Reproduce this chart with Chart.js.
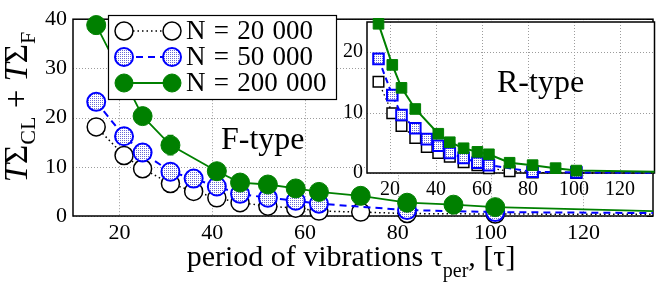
<!DOCTYPE html>
<html><head><meta charset="utf-8">
<script src="https://cdn.jsdelivr.net/npm/chart.js@4.4.0/dist/chart.umd.min.js"></script>
<style>
html,body{margin:0;padding:0;background:#fff;}
#wrap{position:relative;width:664px;height:287px;overflow:hidden;}
#main{position:absolute;left:0;top:0;}
#inset{position:absolute;left:330px;top:0;}
</style></head><body>
<div id="wrap"><canvas id="main" width="664" height="287"></canvas><canvas id="inset" width="334" height="200"></canvas></div>
<script>
// ---- tick labels ----
const xTicks = [20, 40, 60, 80, 100, 120];
const yTicksMain = [0, 10, 20, 30, 40];
const yTicksInset = [0, 10, 20];
const seriesLabels = ['N = 20 000', 'N = 50 000', 'N = 200 000'];

// ---- F-type (main plot) ----
const fBlackX = [15, 21, 25, 31, 36, 41, 46, 52, 58, 63, 72, 82, 101, 150];
const fBlackY = [18.1, 12.3, 9.6, 6.6, 5.0, 3.7, 2.7, 2.0, 1.6, 1.0, 0.8, 0.5, 0.4, 0.3];
const fBlueX  = [15, 21, 25, 31, 36, 41, 46, 52, 58, 63, 82, 101, 150];
const fBlueY  = [23.2, 16.2, 12.9, 9.0, 7.6, 6.0, 4.5, 3.7, 3.1, 2.5, 1.2, 0.8, 0.5];
const fGreenX = [15, 25, 31, 41, 46, 52, 58, 63, 72, 82, 92, 101, 150];
const fGreenY = [38.8, 20.3, 14.4, 9.1, 6.8, 6.4, 5.6, 4.9, 4.1, 2.7, 2.3, 1.8, 0.65];
const fGreenErrX = [15, 31];
const fGreenErr  = [1.8, 2.0];

// ---- R-type (inset) ----
const rBlackX = [15, 21, 25, 31, 36, 41, 46, 52, 58, 63, 72, 82, 101, 150];
const rBlackY = [15.1, 9.9, 7.8, 5.8, 4.3, 3.3, 2.7, 1.8, 1.3, 0.8, 0.3, 0.1, 0.0, 0.0];
const rBlueX  = [15, 21, 25, 31, 36, 41, 46, 52, 58, 63, 82, 101, 150];
const rBlueY  = [18.9, 12.9, 9.6, 7.4, 5.6, 4.5, 3.3, 2.5, 1.7, 1.3, 0.2, 0.1, 0.0];
const rGreenX = [15, 21, 25, 31, 41, 46, 52, 58, 63, 72, 82, 92, 101, 150];
const rGreenY = [24.7, 17.9, 14.1, 10.6, 6.5, 5.1, 4.1, 3.5, 3.1, 1.7, 1.3, 0.8, 0.4, 0.1];

const SERIF = 'Liberation Serif';
const GREEN = '#008000';
const BLUE = '#0000ff';
Chart.defaults.font.family = SERIF;
Chart.defaults.color = '#000';

function pts(xs, ys){ return xs.map((x, i) => ({x: x, y: ys[i]})); }

function makePattern(){
  const c = document.createElement('canvas'); c.width = 2; c.height = 2;
  const g = c.getContext('2d');
  g.fillStyle = '#ffffff'; g.fillRect(0, 0, 2, 2);
  g.fillStyle = 'rgb(105,105,215)'; g.fillRect(0, 0, 1, 1);
  return g.createPattern(c, 'repeat');
}
const dotFill = makePattern();

const gridFrame = {
  id: 'gridFrame',
  beforeDraw(chart, args, o){
    if (o.fillArea){
      const a = chart.chartArea, ctx = chart.ctx;
      ctx.save(); ctx.fillStyle = '#fff';
      ctx.fillRect(a.left, a.top, a.right - a.left, a.bottom - a.top);
      ctx.restore();
    }
  },
  beforeDatasetsDraw(chart, args, o){
    const ctx = chart.ctx, a = chart.chartArea, xs = chart.scales.x, ys = chart.scales.y;
    ctx.save();
    ctx.strokeStyle = '#9c9c9c'; ctx.lineWidth = 1; ctx.setLineDash([1, 2]);
    o.xt.forEach(v => {
      const px = Math.round(xs.getPixelForValue(v)) + 0.5;
      ctx.beginPath(); ctx.moveTo(px, a.top); ctx.lineTo(px, a.bottom); ctx.stroke();
    });
    o.yt.forEach(v => {
      const py = Math.round(ys.getPixelForValue(v)) + 0.5;
      ctx.beginPath(); ctx.moveTo(a.left, py); ctx.lineTo(a.right, py); ctx.stroke();
    });
    ctx.setLineDash([]);
    ctx.strokeStyle = '#000'; ctx.lineWidth = 1.5;
    ctx.strokeRect(a.left, a.top, a.right - a.left, a.bottom - a.top);
    if (o.rightTicks){
      ctx.lineWidth = 1;
      o.yt.forEach(v => {
        const py = Math.round(ys.getPixelForValue(v)) + 0.5;
        ctx.beginPath(); ctx.moveTo(a.right - 6, py); ctx.lineTo(a.right, py); ctx.stroke();
      });
    }
    if (o.errX){
      ctx.strokeStyle = GREEN; ctx.lineWidth = 1.2;
      o.errX.forEach((xv, i) => {
        const yv = o.errY[i];
        const px = xs.getPixelForValue(xv);
        const y0 = ys.getPixelForValue(yv - o.err[i]);
        const y1 = ys.getPixelForValue(yv + o.err[i]);
        ctx.beginPath(); ctx.moveTo(px, y0); ctx.lineTo(px, y1);
        ctx.moveTo(px - 3, y0); ctx.lineTo(px + 3, y0);
        ctx.moveTo(px - 3, y1); ctx.lineTo(px + 3, y1);
        ctx.stroke();
      });
    }
    ctx.restore();
  }
};

function drawRich(ctx, parts, cx, by){
  let total = 0;
  parts.forEach(p => { ctx.font = p.f; p.w = ctx.measureText(p.t).width; total += p.w; });
  let x = cx - total / 2;
  parts.forEach(p => { ctx.font = p.f; ctx.fillText(p.t, x, by + (p.dy || 0)); x += p.w; });
}

const F = (s, extra) => (extra ? extra + ' ' : '') + s + 'px "Liberation Serif"';

const decorations = {
  id: 'decorations',
  afterDraw(chart){
    const ctx = chart.ctx;
    ctx.save();
    ctx.fillStyle = '#000'; ctx.textBaseline = 'alphabetic'; ctx.textAlign = 'left';
    // F-type label
    ctx.font = F(32);
    ctx.fillText('F-type', 221, 149);
    // x-axis title
    drawRich(ctx, [
      {t: 'period of vibrations τ', f: F(30)},
      {t: 'per', f: F(20), dy: 11},
      {t: ', [τ]', f: F(30)}
    ], 351, 266);
    // y-axis title
    ctx.save();
    ctx.translate(27, 107); ctx.rotate(-Math.PI / 2);
    drawRich(ctx, [
      {t: 'T', f: F(33, 'italic')},
      {t: 'Σ', f: F(33)},
      {t: 'CL', f: F(22), dy: 8},
      {t: ' + ', f: F(33)},
      {t: 'T', f: F(33, 'italic')},
      {t: 'Σ', f: F(33)},
      {t: 'F', f: F(22), dy: 8}
    ], 0, 0);
    ctx.restore();
    // legend
    ctx.fillStyle = '#fff'; ctx.fillRect(108, 15, 228, 84);
    ctx.strokeStyle = '#000'; ctx.lineWidth = 1.2; ctx.strokeRect(108.5, 15.5, 228, 84);
    const styles = [
      {line: '#000', dash: [1.5, 3], lw: 1.5, fill: '#fff', stroke: '#000', bw: 1.5},
      {line: BLUE, dash: [7, 5], lw: 2, fill: dotFill, stroke: BLUE, bw: 2},
      {line: GREEN, dash: [], lw: 1.8, fill: GREEN, stroke: GREEN, bw: 1}
    ];
    styles.forEach((s, i) => {
      const yy = 31 + i * 26;
      ctx.strokeStyle = s.line; ctx.lineWidth = s.lw; ctx.setLineDash(s.dash);
      ctx.beginPath(); ctx.moveTo(124, yy); ctx.lineTo(172, yy); ctx.stroke();
      ctx.setLineDash([]);
      [124, 172].forEach(cx => {
        ctx.beginPath(); ctx.arc(cx, yy, 9, 0, Math.PI * 2);
        ctx.fillStyle = s.fill; ctx.fill();
        ctx.strokeStyle = s.stroke; ctx.lineWidth = s.bw; ctx.stroke();
      });
      ctx.fillStyle = '#000'; ctx.font = F(27);
      try { ctx.wordSpacing = '1.5px'; } catch (e) {}
      ctx.fillText(seriesLabels[i], 186, yy + 8);
      try { ctx.wordSpacing = '0px'; } catch (e) {}
    });
    ctx.restore();
  }
};

const insetText = {
  id: 'insetText',
  afterDraw(chart){
    const ctx = chart.ctx;
    ctx.save();
    ctx.fillStyle = '#000'; ctx.font = F(32); ctx.textBaseline = 'alphabetic';
    ctx.fillText('R-type', 497 - 330, 92);
    ctx.restore();
  }
};

function tickScale(ticks, font, pad, fitProp, fitVal, min, max){
  return {
    type: 'linear', min: min, max: max,
    afterBuildTicks: s => { s.ticks = ticks.map(v => ({value: v})); },
    afterFit: s => { s[fitProp] = fitVal; },
    grid: {display: false, drawTicks: false},
    border: {display: false},
    ticks: {font: {family: SERIF, size: font}, color: '#000', padding: pad, maxRotation: 0, autoSkip: false}
  };
}

const clipOpt = {left: 0, right: 0, top: 12, bottom: 12};

new Chart(document.getElementById('main'), {
  type: 'line',
  data: {datasets: [
    {label: seriesLabels[0], data: pts(fBlackX, fBlackY), borderColor: '#000', borderWidth: 1.5, borderDash: [1.5, 3],
     pointRadius: 9, pointBackgroundColor: '#fff', pointBorderColor: '#000', pointBorderWidth: 1.5, order: 3, clip: clipOpt},
    {label: seriesLabels[1], data: pts(fBlueX, fBlueY), borderColor: BLUE, borderWidth: 2, borderDash: [7, 5],
     pointRadius: 9, pointBackgroundColor: dotFill, pointBorderColor: BLUE, pointBorderWidth: 2, order: 2, clip: clipOpt},
    {label: seriesLabels[2], data: pts(fGreenX, fGreenY), borderColor: GREEN, borderWidth: 1.8,
     pointRadius: 9.5, pointBackgroundColor: GREEN, pointBorderColor: GREEN, pointBorderWidth: 1, order: 1, clip: clipOpt}
  ]},
  options: {
    responsive: false, animation: false, devicePixelRatio: 1,
    layout: {padding: {left: 0, right: 3, top: 11, bottom: 0}},
    plugins: {legend: {display: false}, tooltip: {enabled: false},
      gridFrame: {xt: xTicks, yt: yTicksMain, rightTicks: true, errX: fGreenErrX, errY: [fGreenY[0], fGreenY[2]], err: fGreenErr}},
    scales: {
      x: tickScale(xTicks, 22, 4, 'height', 71, 10, 135),
      y: tickScale(yTicksMain, 22, 6, 'width', 73, 0, 40)
    }
  },
  plugins: [gridFrame, decorations]
});

new Chart(document.getElementById('inset'), {
  type: 'line',
  data: {datasets: [
    {data: pts(rBlackX, rBlackY), borderColor: '#000', borderWidth: 1.3, borderDash: [1.5, 3], pointStyle: 'rect',
     pointRadius: 7.5, pointBackgroundColor: '#fff', pointBorderColor: '#000', pointBorderWidth: 1.5, order: 3, clip: clipOpt},
    {data: pts(rBlueX, rBlueY), borderColor: BLUE, borderWidth: 2, borderDash: [6, 4], pointStyle: 'rect',
     pointRadius: 7.5, pointBackgroundColor: dotFill, pointBorderColor: BLUE, pointBorderWidth: 2, order: 2, clip: clipOpt},
    {data: pts(rGreenX, rGreenY), borderColor: GREEN, borderWidth: 2, pointStyle: 'rect',
     pointRadius: 7.5, pointBackgroundColor: GREEN, pointBorderColor: GREEN, pointBorderWidth: 1, order: 1, clip: clipOpt}
  ]},
  options: {
    responsive: false, animation: false, devicePixelRatio: 1,
    layout: {padding: {left: 0, right: 8, top: 22, bottom: 0}},
    plugins: {legend: {display: false}, tooltip: {enabled: false},
      gridFrame: {xt: xTicks, yt: yTicksInset, fillArea: true}},
    scales: {
      x: tickScale(xTicks, 20, 5, 'height', 27, 10, 135),
      y: tickScale(yTicksInset, 20, 4, 'width', 37, 0, 25)
    }
  },
  plugins: [gridFrame, insetText]
});
</script>
</body></html>
